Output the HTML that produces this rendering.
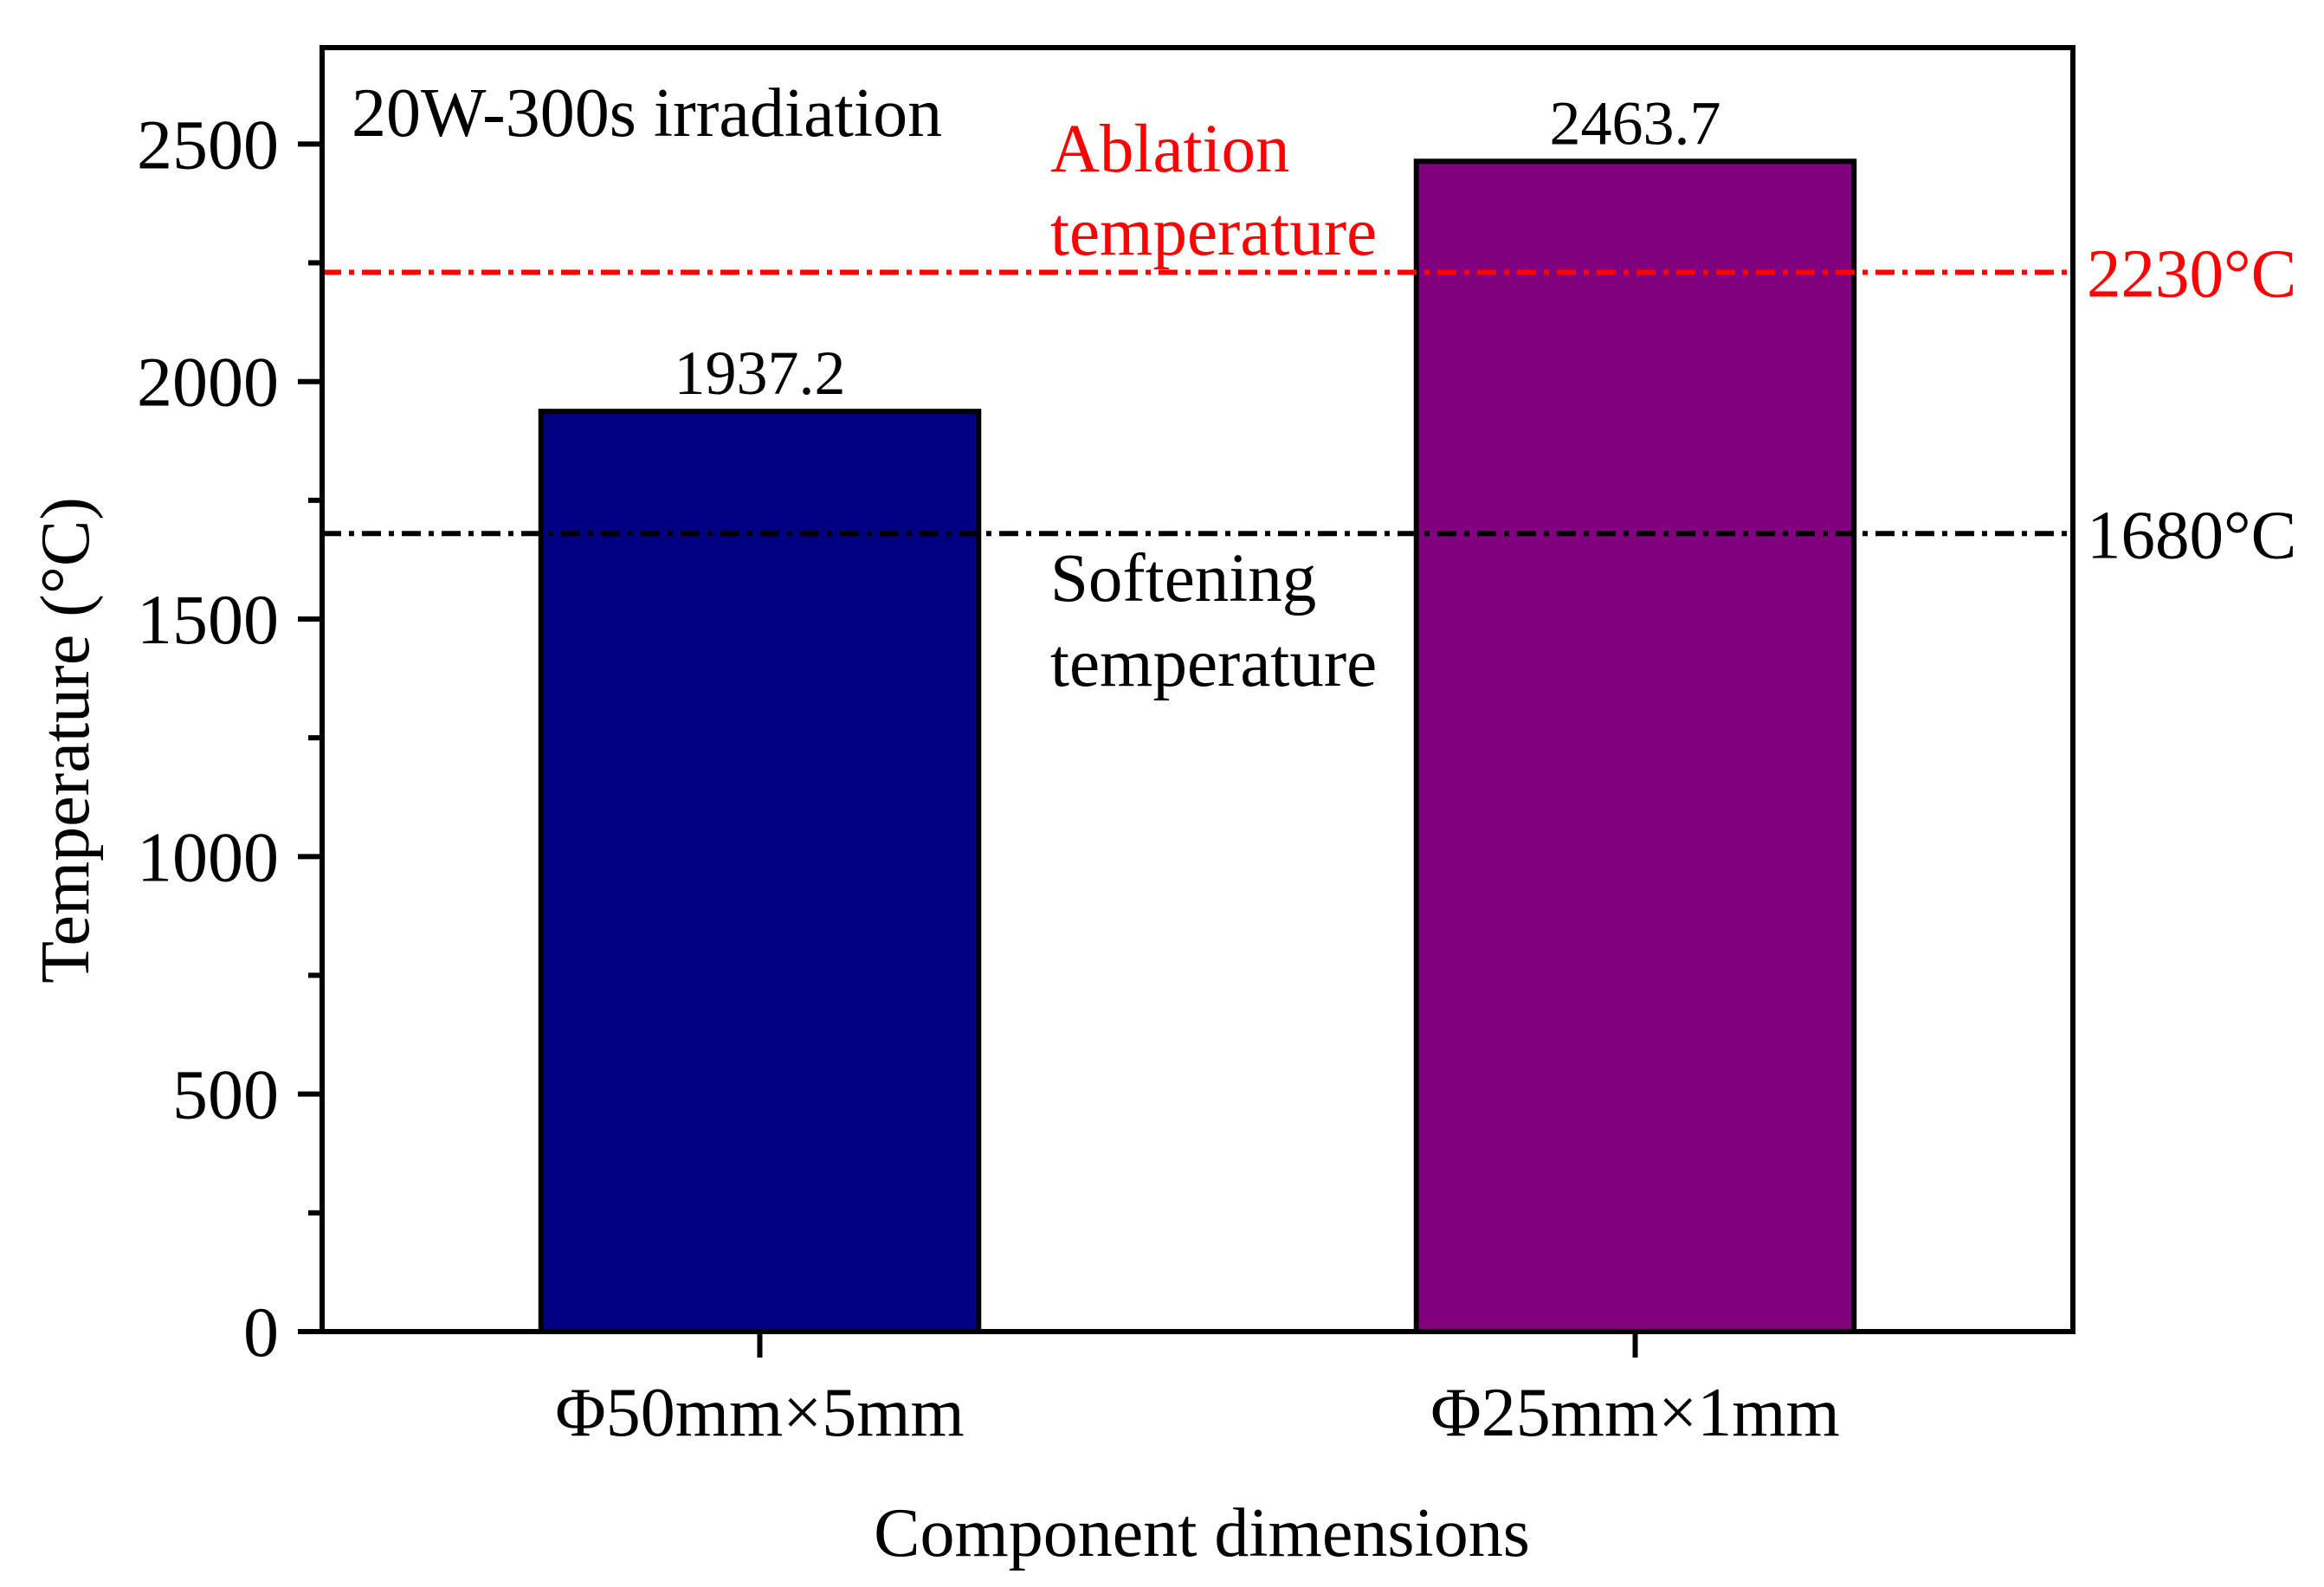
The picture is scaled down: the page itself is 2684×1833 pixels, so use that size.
<!DOCTYPE html>
<html><head><meta charset="utf-8"><style>
html,body{margin:0;padding:0;background:#fff}
svg{display:block}
text{font-family:"Liberation Serif",serif}
</style></head><body>
<svg id="chart" xmlns="http://www.w3.org/2000/svg" width="2684" height="1833" viewBox="0 0 2684 1833"></svg>
<script>
const categories = ["Φ50mm×5mm", "Φ25mm×1mm"];
const temperatures = [1937.2, 2463.7];
const valueLabels = ["1937.2", "2463.7"];
const barColors = ["#000080", "#800080"];
const yTicks = [0, 500, 1000, 1500, 2000, 2500];
const yMinorTicks = [250, 750, 1250, 1750, 2250];
const refValues = [2230, 1680];
const refLabels = ["2230°C", "1680°C"];
const refColors = ["#ff0000", "#000000"];

const L = 372, R = 2394, T = 55, B = 1538;
const yMax = 2703, xMin = 0.5, xMax = 2.5, barW = 0.5;
const y = v => B - (v / yMax) * (B - T);
const x = v => L + (v - xMin) / (xMax - xMin) * (R - L);
const svg = document.getElementById('chart');
const NS = 'http://www.w3.org/2000/svg';
function mk(tag, attrs, parent) {
  const e = document.createElementNS(NS, tag);
  for (const k in attrs) e.setAttribute(k, attrs[k]);
  (parent || svg).appendChild(e);
  return e;
}

temperatures.forEach((v, i) => {
  const cx = x(i + 1);
  const w = x(xMin + barW) - L;
  const r = mk('rect', {x: cx - w / 2, y: y(v), width: w, height: B - y(v), fill: barColors[i], stroke: '#000', 'stroke-width': 6});
  
  
  const t = mk('text', {x: cx, y: y(v) - 20, 'font-size': 72, 'text-anchor': 'middle'});
  t.textContent = valueLabels[i];
  
  
});

refValues.forEach((v, i) => {
  const ln = mk('line', {x1: L, x2: R, y1: y(v), y2: y(v), stroke: refColors[i], 'stroke-width': 6, 'stroke-dasharray': '22 9 6 9'});
  
  
  const t = mk('text', {x: R + 16, y: y(v) + 28, 'font-size': 79, fill: refColors[i]});
  t.textContent = refLabels[i];
  
  
});

const fr = mk('rect', {x: L, y: T, width: R - L, height: B - T, fill: 'none', stroke: '#000', 'stroke-width': 6});



yTicks.forEach(v => {
  const tk = mk('line', {x1: L - 28, x2: L, y1: y(v), y2: y(v), stroke: '#000', 'stroke-width': 6});
  
  
  const t = mk('text', {x: L - 50, y: y(v) + 28, 'font-size': 82, 'text-anchor': 'end'});
  t.textContent = v;
  
  
});
yMinorTicks.forEach(v => {
  const tk = mk('line', {x1: L - 16, x2: L, y1: y(v), y2: y(v), stroke: '#000', 'stroke-width': 6});
  
  
});
categories.forEach((c, i) => {
  const cx = x(i + 1);
  const tk = mk('line', {x1: cx, x2: cx, y1: B, y2: B + 30, stroke: '#000', 'stroke-width': 6});
  
  
  const t = mk('text', {x: cx, y: 1658, 'font-size': 80, 'text-anchor': 'middle'});
  t.textContent = c;
  
  
});
</script>
<svg style="position:absolute;left:0;top:0" width="2684" height="1833" xmlns="http://www.w3.org/2000/svg">
<text x="1388" y="1797" font-size="80" text-anchor="middle" font-family="Liberation Serif">Component dimensions</text>
<text transform="translate(102,855) rotate(-90)" font-size="80" text-anchor="middle" font-family="Liberation Serif">Temperature (°C)</text>
<text x="406" y="157" font-size="80" font-family="Liberation Serif">20W-300s irradiation</text>
<text x="1213" y="198" font-size="79" fill="#ff0000" font-family="Liberation Serif">Ablation</text>
<text x="1213" y="294" font-size="79" fill="#ff0000" font-family="Liberation Serif">temperature</text>
<text x="1213" y="694" font-size="79" font-family="Liberation Serif">Softening</text>
<text x="1213" y="792" font-size="79" font-family="Liberation Serif">temperature</text>
</svg>
</body></html>
